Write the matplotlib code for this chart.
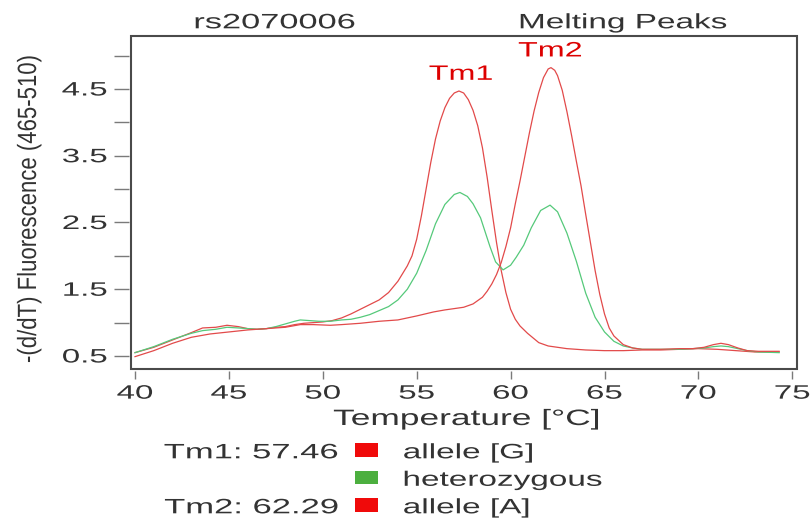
import matplotlib
matplotlib.use("Agg")
import matplotlib.pyplot as plt
import matplotlib.patheffects as pe
from matplotlib.transforms import Affine2D
from matplotlib.patches import Rectangle

# ---------------- data ----------------
g_temp = [40.0, 41.0, 42.0, 43.0, 43.6, 44.3, 44.9, 45.5, 46.0, 46.5, 47.0, 47.5,
          48.0, 48.5, 49.0, 49.5, 50.0, 50.5, 51.0, 51.5, 52.0, 52.5, 53.0, 53.5,
          54.0, 54.5, 54.75, 55.0, 55.25, 55.5, 55.75, 56.0, 56.25, 56.5, 56.75,
          57.0, 57.25, 57.5, 57.75, 58.0, 58.25, 58.5, 58.75, 59.0, 59.25, 59.5,
          59.75, 60.0, 60.25, 60.5, 60.9, 61.5, 62.0, 63.0, 64.0, 65.0, 66.0,
          67.0, 68.0, 69.0, 70.0, 71.0, 72.0, 73.0, 74.3]
g_vals = [0.55, 0.63, 0.74, 0.85, 0.92, 0.93, 0.96, 0.94, 0.91, 0.90, 0.91, 0.93,
          0.94, 0.97, 0.99, 1.00, 1.01, 1.03, 1.07, 1.13, 1.20, 1.27, 1.34, 1.45,
          1.62, 1.85, 2.00, 2.25, 2.60, 3.00, 3.40, 3.75, 4.02, 4.22, 4.36,
          4.44, 4.47, 4.44, 4.34, 4.18, 3.95, 3.62, 3.18, 2.68, 2.20, 1.78,
          1.45, 1.20, 1.05, 0.95, 0.84, 0.70, 0.65, 0.61, 0.59, 0.58, 0.58,
          0.59, 0.59, 0.60, 0.61, 0.60, 0.58, 0.56, 0.56]

a_temp = [40.0, 41.0, 42.0, 43.0, 44.0, 45.0, 46.0, 47.0, 48.0, 48.8, 49.5, 50.4,
          51.0, 52.0, 53.0, 54.0, 55.0, 55.9, 56.5, 57.0, 57.5, 58.0, 58.5, 58.75,
          59.0, 59.25, 59.5, 59.75, 60.0, 60.25, 60.5, 60.75, 61.0, 61.25, 61.5,
          61.75, 62.0, 62.15, 62.35, 62.5, 62.75, 63.0, 63.25, 63.5, 63.75, 64.0,
          64.25, 64.5, 64.75, 65.0, 65.25, 65.5, 66.0, 66.5, 67.0, 68.0, 69.0,
          69.7, 70.3, 70.8, 71.2, 71.6, 72.1, 72.6, 73.2, 74.3]
a_vals = [0.49, 0.58, 0.69, 0.78, 0.83, 0.86, 0.89, 0.91, 0.93, 0.97, 0.97, 0.96,
          0.97, 0.99, 1.02, 1.04, 1.10, 1.16, 1.19, 1.21, 1.23, 1.28, 1.38, 1.47,
          1.58, 1.72, 1.90, 2.14, 2.42, 2.78, 3.12, 3.48, 3.84, 4.17, 4.45,
          4.67, 4.80, 4.82, 4.78, 4.70, 4.48, 4.16, 3.80, 3.42, 3.05, 2.62,
          2.20, 1.78, 1.42, 1.13, 0.92, 0.80, 0.67, 0.62, 0.60, 0.60, 0.61,
          0.61, 0.63, 0.67, 0.69, 0.67, 0.62, 0.58, 0.57, 0.57]

h_temp = [40.0, 41.0, 42.0, 43.0, 43.6, 44.3, 44.9, 45.5, 46.0, 46.5, 47.0, 47.5,
          48.0, 48.5, 48.8, 49.3, 49.8, 50.4, 51.0, 51.5, 52.0, 52.5, 53.0, 53.5,
          54.0, 54.5, 55.0, 55.5, 56.0, 56.5, 57.0, 57.3, 57.7, 58.0, 58.4, 58.9,
          59.2, 59.6, 60.0, 60.3, 60.7, 61.1, 61.6, 62.1, 62.5, 63.0, 63.5, 64.0,
          64.5, 65.0, 65.5, 66.0, 66.5, 67.0, 68.0, 69.0, 69.7, 70.3, 70.8, 71.2,
          71.6, 72.1, 72.6, 73.2, 74.3]
h_vals = [0.55, 0.64, 0.75, 0.84, 0.88, 0.90, 0.93, 0.92, 0.91, 0.90, 0.91, 0.94,
          0.98, 1.02, 1.04, 1.03, 1.02, 1.02, 1.04, 1.05, 1.08, 1.12, 1.18, 1.24,
          1.34, 1.50, 1.74, 2.08, 2.48, 2.77, 2.92, 2.95, 2.89, 2.78, 2.57, 2.14,
          1.91, 1.79, 1.86, 1.98, 2.16, 2.42, 2.68, 2.76, 2.66, 2.34, 1.92, 1.44,
          1.08, 0.86, 0.72, 0.65, 0.62, 0.60, 0.60, 0.60, 0.61, 0.62, 0.64, 0.65,
          0.64, 0.61, 0.58, 0.56, 0.55]

x_ticks = [40, 45, 50, 55, 60, 65, 70, 75]
y_major = [0.5, 1.5, 2.5, 3.5, 4.5]
y_minor = [1.0, 2.0, 3.0, 4.0, 5.0]
peak_labels = ["Tm1", "Tm2"]
peak_pos = [(57.36, 4.72), (62.11, 5.07)]
legend_tm = ["Tm1: 57.46", "", "Tm2: 62.29"]
legend_names = ["allele [G]", "heterozygous", "allele [A]"]
legend_colors = ["#f00a0a", "#4caf3f", "#f00a0a"]

RED = "#e24a4a"
GREEN = "#55c97a"
TXT = "#333333"
W, H = 812, 519


class Stretch(pe.AbstractPathEffect):
    """Scale drawn glyphs about an anchor (the reference font is wide)."""
    def __init__(self, sx=1.6, anchor="center", sy=1.0):
        super().__init__()
        self.sx = sx
        self.sy = sy
        self.anchor = anchor

    def draw_path(self, renderer, gc, tpath, affine, rgbFace=None):
        bb = tpath.get_extents(affine)
        if self.anchor == "left":
            a = bb.x0
        elif self.anchor == "right":
            a = bb.x1
        else:
            a = 0.5 * (bb.x0 + bb.x1)
        b = 0.5 * (bb.y0 + bb.y1)
        t = affine + Affine2D().translate(-a, -b).scale(self.sx, self.sy).translate(a, b)
        renderer.draw_path(gc, tpath, t, rgbFace)


def fx(px):
    return px / W


def fy(py):
    return 1 - py / H


plt.rcParams["font.family"] = ["Liberation Sans", "DejaVu Sans"]

fig = plt.figure(figsize=(W / 100, H / 100), dpi=100)
ax = fig.add_axes([fx(131), fy(369), fx(797) - fx(131), fy(36) - fy(369)])

ax.plot(g_temp, g_vals, color=RED, lw=0.9)
ax.plot(h_temp, h_vals, color=GREEN, lw=0.9)
ax.plot(a_temp, a_vals, color=RED, lw=0.9)

ax.set_xlim(39.787, 75.25)
ax.set_ylim(0.305, 5.294)

ax.set_xticks(x_ticks)
ax.set_xticklabels([str(v) for v in x_ticks])
ax.set_yticks(y_major)
ax.set_yticklabels([f"{v:.1f}" for v in y_major])
ax.set_yticks(y_minor, minor=True)

for s in ["top", "right"]:
    ax.spines[s].set_visible(False)
for s in ["left", "bottom"]:
    ax.spines[s].set_position(("outward", 1.5))
    ax.spines[s].set_color("none")

ax.tick_params(axis="y", which="both", direction="out", length=10.8, width=1.0,
               color="#7a7a7a", pad=4.8, labelsize=14, labelcolor=TXT)
ax.tick_params(axis="x", which="both", direction="out", length=5.5, width=1.0,
               color="#7a7a7a", pad=5.0, labelsize=14, labelcolor=TXT)

for lbl in ax.get_xticklabels():
    lbl.set_path_effects([Stretch(1.7, "center")])
for lbl in ax.get_yticklabels():
    lbl.set_path_effects([Stretch(1.7, "right")])

ax.add_patch(Rectangle((0, 0), 1, 1, transform=ax.transAxes, fill=False,
                       lw=1.5, ec="#4a4a4a", clip_on=False, zorder=5))

for lab, (px_, py_) in zip(peak_labels, peak_pos):
    ax.text(px_, py_, lab, color="#dd0000", fontsize=15, ha="center", va="center",
            path_effects=[Stretch(1.55, "center")])

# titles
fig.text(fx(275), fy(28.3), "rs2070006", fontsize=15, color=TXT, ha="center",
         va="baseline", path_effects=[Stretch(1.65, "center")])
fig.text(fx(623.3), fy(28.3), "Melting Peaks", fontsize=15, color=TXT, ha="center",
         va="baseline", path_effects=[Stretch(1.6, "center")])

# axis labels
fig.text(fx(466.7), fy(425), "Temperature [°C]", fontsize=16, color=TXT, ha="center",
         va="baseline", path_effects=[Stretch(1.59, "center")])
fig.text(fx(29), fy(209), "-(d/dT) Fluorescence (465-510)", rotation=90,
         fontsize=19, color=TXT, ha="center", va="center",
         path_effects=[Stretch(1.0, "center", sy=0.84)])

# legend
row_base = [458.3, 485.8, 513.3]
for tm, name, col, yb in zip(legend_tm, legend_names, legend_colors, row_base):
    if tm:
        fig.text(fx(338.3), fy(yb), tm, fontsize=15, color=TXT, ha="right",
                 va="baseline", path_effects=[Stretch(1.66, "right")])
    fig.patches.append(Rectangle((fx(355), fy(yb - 1.6)), fx(378.3) - fx(355),
                                 fy(yb - 15) - fy(yb - 1.6), transform=fig.transFigure,
                                 fc=col, ec="none", figure=fig))
    fig.text(fx(403.3), fy(yb), name, fontsize=15, color=TXT, ha="left",
             va="baseline", path_effects=[Stretch(1.6, "left")])

fig.savefig("out.png", dpi=100)
